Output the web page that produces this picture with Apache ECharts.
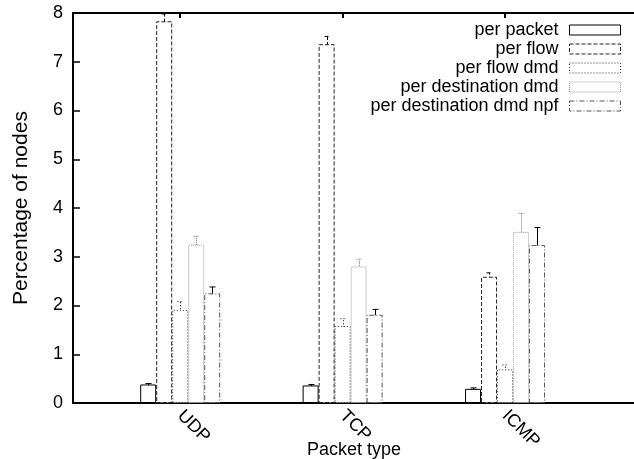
<!DOCTYPE html>
<html>
<head>
<meta charset="utf-8">
<script src="https://cdn.jsdelivr.net/npm/echarts@6/dist/echarts.min.js"></script>
<style>
  html, body { margin: 0; padding: 0; background: #fff; }
  #chart { width: 634px; height: 459px; }
</style>
</head>
<body>
<div id="chart"></div>
<script>
// packet types on the x axis
var categories = ['UDP', 'TCP', 'ICMP'];
var seriesNames = ['per packet', 'per flow', 'per flow dmd', 'per destination dmd', 'per destination dmd npf'];

// mean percentage of nodes, one array per series (UDP, TCP, ICMP)
var perPacket = [0.38, 0.36, 0.29];
var perFlow = [7.83, 7.36, 2.59];
var perFlowDmd = [1.91, 1.58, 0.69];
var perDestDmd = [3.25, 2.80, 3.51];
var perDestDmdNpf = [2.25, 1.81, 3.24];

// error bar half widths
var errPerPacket = [0.02, 0.02, 0.02];
var errPerFlow = [0.15, 0.16, 0.08];
var errPerFlowDmd = [0.17, 0.15, 0.09];
var errPerDestDmd = [0.17, 0.15, 0.38];
var errPerDestDmdNpf = [0.13, 0.11, 0.36];

var yTicks = [0, 1, 2, 3, 4, 5, 6, 7, 8];

var means = [perPacket, perFlow, perFlowDmd, perDestDmd, perDestDmdNpf];
var errs = [errPerPacket, errPerFlow, errPerFlowDmd, errPerDestDmd, errPerDestDmdNpf];

var FONT = "'Liberation Sans', Arial, sans-serif";
var BAR_W = 16;
var styles = [
  { color: '#000', dash: 'solid', err: 'solid' },
  { color: '#222', dash: [4, 2], err: [4, 2] },
  { color: '#333', dash: [1, 2], err: [1, 2] },
  { color: '#999', dash: [1, 1], err: [1, 1] },
  { color: '#555', dash: [5, 2, 1, 2], err: 'solid' }
];

var chart = echarts.init(document.getElementById('chart'), null, { renderer: 'canvas' });

var series = [];
seriesNames.forEach(function (name, s) {
  series.push({
    name: name,
    type: 'bar',
    barWidth: BAR_W,
    barGap: '0%',
    xAxisIndex: 0,
    data: means[s].map(function (v, i) { return [i, v]; }),
    itemStyle: {
      color: '#fff',
      borderColor: styles[s].color,
      borderWidth: 1,
      borderType: styles[s].dash
    },
    emphasis: { disabled: true },
    animation: false
  });
});

var errData = [];
means.forEach(function (arr, s) {
  arr.forEach(function (v, i) {
    errData.push([i, s, v - errs[s][i], v + errs[s][i]]);
  });
});

series.push({
  type: 'custom',
  xAxisIndex: 0,
  data: errData,
  encode: { x: 0, y: [2, 3] },
  silent: true,
  animation: false,
  renderItem: function (params, api) {
    var x = api.value(0);
    var s = api.value(1);
    var lo = api.coord([x, api.value(2)]);
    var hi = api.coord([x, api.value(3)]);
    var cx = Math.round(lo[0] + (s - 2) * BAR_W) + 0.5;
    var st = { stroke: styles[s].color === '#999' ? '#777' : '#000', lineWidth: 1, lineDash: styles[s].err === 'solid' ? null : styles[s].err };
    return {
      type: 'group',
      children: [
        { type: 'line', shape: { x1: cx, y1: lo[1], x2: cx, y2: hi[1] }, style: st },
        { type: 'line', shape: { x1: cx - 3, y1: lo[1], x2: cx + 3, y2: lo[1] }, style: st },
        { type: 'line', shape: { x1: cx - 3, y1: hi[1], x2: cx + 3, y2: hi[1] }, style: st }
      ]
    };
  }
});

var legendData = seriesNames.map(function (name, s) {
  return {
    name: name,
    icon: 'rect',
    itemStyle: { color: '#fff', borderColor: styles[s].color, borderWidth: 1, borderType: styles[s].dash }
  };
});

var option = {
  backgroundColor: '#ffffff',
  animation: false,
  textStyle: { fontFamily: FONT },
  grid: { left: 73, right: -1, top: 13, bottom: 56, containLabel: false, outerBoundsMode: 'none' },
  legend: {
    data: legendData,
    orient: 'vertical',
    right: 13,
    top: 21,
    padding: 0,
    align: 'right',
    itemWidth: 51,
    itemHeight: 10,
    itemGap: 1,
    selectedMode: false,
    textStyle: { fontSize: 18, color: '#000', fontFamily: FONT, padding: [0, 6, 0, 0] }
  },
  xAxis: [{
    type: 'value',
    position: 'bottom',
    min: -0.66,
    max: 2.8,
    name: 'Packet type',
    nameLocation: 'middle',
    nameGap: 38,
    nameMoveOverlap: false,
    nameTextStyle: { fontSize: 18, color: '#000', fontFamily: FONT },
    splitLine: { show: false },
    axisLine: { show: true, onZero: false, lineStyle: { color: '#000', width: 2 } },
    axisTick: { show: true, inside: true, length: 6, customValues: [0, 1, 2], lineStyle: { color: '#000', width: 2 } },
    axisLabel: {
      customValues: [0, 1, 2],
      rotate: -45,
      margin: 10,
      fontSize: 18,
      color: '#000',
      fontFamily: FONT,
      formatter: function (v) { return categories[Math.round(v)]; }
    }
  }, {
    type: 'value',
    position: 'top',
    min: -0.66,
    max: 2.8,
    splitLine: { show: false },
    axisLine: { show: true, onZero: false, lineStyle: { color: '#000', width: 2 } },
    axisTick: { show: true, inside: true, length: 5, customValues: [0, 1, 2], lineStyle: { color: '#000', width: 2 } },
    axisLabel: { show: false }
  }],
  yAxis: {
    type: 'value',
    min: 0,
    max: 8,
    interval: 1,
    name: 'Percentage of nodes',
    nameLocation: 'middle',
    nameGap: 41,
    nameMoveOverlap: false,
    nameTextStyle: { fontSize: 21, color: '#000', fontFamily: FONT },
    splitLine: { show: false },
    axisLine: { show: true, onZero: false, lineStyle: { color: '#000', width: 2 } },
    axisTick: { show: true, inside: true, length: 7, lineStyle: { color: '#000', width: 1.5 } },
    axisLabel: {
      fontSize: 18,
      margin: 10,
      color: '#000',
      fontFamily: FONT,
      formatter: function (v) { return yTicks.indexOf(v) >= 0 ? String(v) : ''; }
    }
  },
  series: series
};

chart.setOption(option);
</script>
</body>
</html>
